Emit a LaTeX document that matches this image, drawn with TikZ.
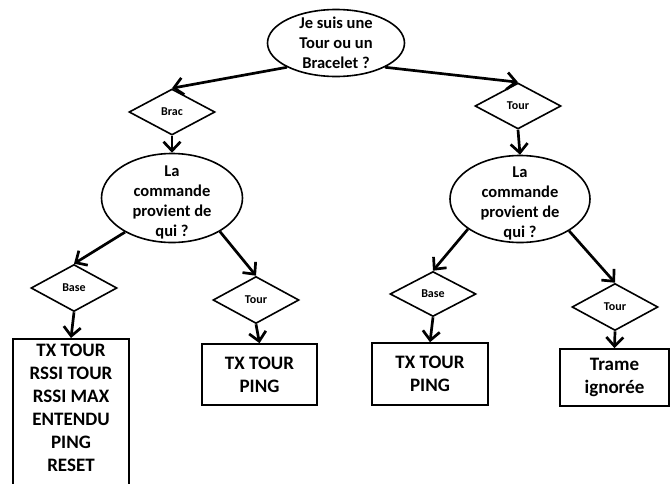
\documentclass[tikz,border=0pt]{standalone}
\usepackage{fontspec}
\setmainfont{Carlito}
\usetikzlibrary{arrows.meta,shapes.geometric}
\begin{document}
\begin{tikzpicture}[x=1pt,y=-1pt]
\tikzstyle{every label}=[align=center, inner sep=0pt, font=\bfseries\fontsize{16.5}{20}\selectfont]
\tikzstyle{question}=[draw, ellipse, line width=1.6pt, inner sep=0pt]
\tikzstyle{choice}=[draw, diamond, line width=1.6pt, minimum width=86pt, minimum height=46pt, inner sep=0pt, font=\bfseries\fontsize{12}{14}\selectfont]
\tikzstyle{action}=[draw, rectangle, line width=1.6pt, align=center, font=\bfseries\fontsize{19}{23}\selectfont]
\tikzstyle{link}=[line width=2.7pt, -{Straight Barb[length=9pt, width=17pt]}]
\useasboundingbox (0,0) rectangle (670,483);
\draw (336,43) node (q0) [question, minimum width=137pt, minimum height=67pt, label={center:Je suis une\\Tour ou un\\Bracelet ?}] {};
\draw (172,112) node (brac) [choice] {Brac};
\draw (518,106) node (tour) [choice] {Tour};
\draw (172,198) node (q1) [question, minimum width=141pt, minimum height=89pt, label={[yshift=-4pt]center:La\\commande\\provient de\\qui ?}] {};
\draw (520,199) node (q2) [question, minimum width=140pt, minimum height=87pt, label={[yshift=-4pt]center:La\\commande\\provient de\\qui ?}] {};
\draw (74,288) node (base1) [choice, minimum height=47pt] {Base};
\draw (256,300) node (tour1) [choice, minimum height=47pt] {Tour};
\draw (433,294) node (base2) [choice, minimum height=45pt] {Base};
\draw (615,307) node (tour2) [choice, minimum height=47pt] {Tour};
\draw (71,338) node (act1) [action, anchor=north, minimum width=116pt, minimum height=160pt, text depth=22pt] {TX TOUR\\RSSI TOUR\\RSSI MAX\\ENTENDU\\PING\\RESET};
\draw (259.5,374.5) node (act2) [action, minimum width=115pt, minimum height=61pt] {TX TOUR\\PING};
\draw (430,374) node (act3) [action, minimum width=116pt, minimum height=62pt] {TX TOUR\\PING};
\draw (614.5,377.5) node (act4) [action, minimum width=109pt, minimum height=57pt] {Trame\\ignorée};
\draw [link] (q0.south west) -- (brac.north);
\draw [link] (q0.south east) -- (tour.north);
\draw [link] (brac.south) -- (q1.north);
\draw [link] (tour.south) -- (q2.north);
\draw [link] (q1.216) -- (base1.north);
\draw [link] (q1.325) -- (tour1.north);
\draw [link] (q2.210) -- (base2.north);
\draw [link] (q2.327) -- (tour2.north);
\draw [link] (base1.south) -- (act1.north);
\draw [link] (tour1.south) -- (act2.north);
\draw [link] (base2.south) -- (act3.north);
\draw [link] (tour2.south) -- (act4.north);
\end{tikzpicture}
\end{document}
